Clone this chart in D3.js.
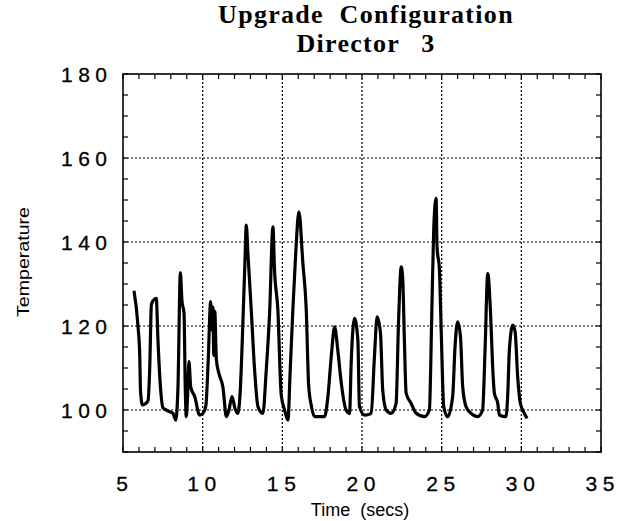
<!DOCTYPE html>
<html><head><meta charset="utf-8">
<script src="https://cdn.jsdelivr.net/npm/d3@7"></script>
<style>
html,body{margin:0;padding:0;background:#fff;}
svg{display:block;}
</style></head>
<body>
<svg id="chart" width="625" height="521"></svg>
<script>
const titleLines = ["Upgrade  Configuration", "Director  3"];
const xLabel = "Time  (secs)";
const yLabel = "Temperature";
const xTicks = [5, 10, 15, 20, 25, 30, 35];
const yTicks = [100, 120, 140, 160, 180];
const times = [5.69,5.94,6.05,6.1,6.22,6.4,6.57,6.68,6.78,6.88,7.09,7.19,7.35,7.51,7.62,7.93,8.14,8.31,8.45,8.6,8.7,8.83,8.91,8.97,9.05,9.14,9.25,9.5,9.81,10.02,10.2,10.35,10.5,10.58,10.64,10.7,10.76,10.86,11.02,11.27,11.49,11.65,11.84,12.02,12.2,12.35,12.5,12.65,12.74,12.84,13.05,13.26,13.47,13.78,13.99,14.2,14.41,14.51,14.72,14.93,15.14,15.35,15.5,15.66,15.85,16.04,16.29,16.5,16.65,16.82,17.02,17.65,17.86,18.07,18.28,18.48,18.7,19.0,19.22,19.32,19.53,19.74,19.84,20.16,20.58,20.78,20.95,21.16,21.3,21.52,21.83,22.14,22.29,22.46,22.56,22.66,22.77,23.08,23.4,23.92,24.23,24.38,24.5,24.65,24.71,24.86,24.97,25.13,25.38,25.69,25.84,26.0,26.18,26.32,26.53,26.85,27.26,27.57,27.73,27.89,28.06,28.2,28.31,28.52,28.62,29.04,29.15,29.25,29.46,29.61,29.77,29.94,30.19,30.36];
const temps = [128.4,120,113,104.5,101.2,101.5,102.2,110.3,125,126,126.6,117,105.5,100.5,100.2,99.6,99.2,97.6,105.5,132.7,126,123,104.8,98.4,103,111.5,105.5,103.2,98.8,99.2,101,112,125.8,119,124.5,113,123.5,112,108.7,105.5,98.4,100,103.2,100.5,99.2,104,118,135,144,137.3,123.8,109.5,100.8,99.2,109.5,123,143.6,133.3,123.8,103.6,100,97.6,110,123.8,138,147.2,134.9,124,106,101,98.4,98.4,103.2,112.7,119.8,114.3,106.4,100,99.2,111.1,121.8,116.7,100.8,98.8,99.2,112.7,122.2,118.3,104.8,100,99.2,101.6,120.6,134.1,131,116.7,104,101.6,99.2,98.4,100,123,142.9,150.4,138.9,133.3,119,100.8,98.4,103.2,115.1,121,117.5,105.5,100.8,99.2,98.4,100,115.1,132.5,123.8,110.3,104,101.6,98.8,98.4,104,114.3,120.2,118.6,107.9,101.6,99.2,98];

const svg = d3.select("#chart");
const x = d3.scaleLinear().domain([5, 35]).range([123, 601]);
const y = d3.scaleLinear().domain([90, 180]).range([452, 74]);
const x0 = x.range()[0], x1 = x.range()[1], y0 = y.range()[0], y1 = y.range()[1];

// grid
const grid = svg.append("g").attr("stroke", "#000").attr("stroke-width", 1.2).attr("stroke-dasharray", "2,2");
grid.selectAll("line.v").data(xTicks.filter(t => t > 5 && t < 35)).join("line")
  .attr("x1", d => x(d)).attr("x2", d => x(d)).attr("y1", y0).attr("y2", y1);
grid.selectAll("line.h").data(yTicks.filter(t => t > 90 && t < 180)).join("line")
  .attr("x1", x0).attr("x2", x1).attr("y1", d => y(d)).attr("y2", d => y(d));

// minor ticks (inward) on all four sides
const xMinor = d3.range(5, 35.01, 1);
const yMinor = d3.range(90, 180.01, 5);
const tk = svg.append("g").attr("stroke", "#000").attr("stroke-width", 1.2);
tk.selectAll("line.b").data(xMinor).join("line")
  .attr("x1", d => x(d)).attr("x2", d => x(d)).attr("y1", y0).attr("y2", y0 - 5);
tk.selectAll("line.t").data(xMinor).join("line")
  .attr("x1", d => x(d)).attr("x2", d => x(d)).attr("y1", y1).attr("y2", y1 + 5);
tk.selectAll("line.l").data(yMinor).join("line")
  .attr("x1", x0).attr("x2", x0 + 5).attr("y1", d => y(d)).attr("y2", d => y(d));
tk.selectAll("line.r").data(yMinor).join("line")
  .attr("x1", x1).attr("x2", x1 - 5).attr("y1", d => y(d)).attr("y2", d => y(d));

// frame
svg.append("rect").attr("x", x0).attr("y", y1).attr("width", x1 - x0).attr("height", y0 - y1)
  .attr("fill", "none").attr("stroke", "#000").attr("stroke-width", 1.6);

// data line
const pts = times.map((t, i) => [t, temps[i]]);
svg.append("path").datum(pts)
  .attr("d", d3.line().curve(d3.curveMonotoneX).x(d => x(d[0])).y(d => y(d[1])))
  .attr("fill", "none").attr("stroke", "#000").attr("stroke-width", 3.2).attr("stroke-linejoin", "round");

// tick labels (spaced digits as in the reference)
const lblFont = "'Liberation Sans', Arial, sans-serif";
const lenFor = s => ({1: 12, 2: 29, 3: 46})[String(s).length];
svg.append("g").selectAll("text").data(yTicks).join("text")
  .attr("x", 107).attr("y", d => y(d) + 7.5)
  .attr("text-anchor", "end").attr("font-family", lblFont).attr("font-size", 21)
  .attr("stroke", "#000").attr("stroke-width", 0.3)
  .attr("textLength", d => lenFor(d)).attr("lengthAdjust", "spacing").text(d => d);
svg.append("g").selectAll("text").data(xTicks).join("text")
  .attr("x", d => x(d) - 1).attr("y", 491)
  .attr("text-anchor", "middle").attr("font-family", lblFont).attr("font-size", 21)
  .attr("stroke", "#000").attr("stroke-width", 0.3)
  .attr("textLength", d => lenFor(d)).attr("lengthAdjust", "spacing").text(d => d);

// axis titles
svg.append("text").attr("x", 360).attr("y", 516).attr("text-anchor", "middle")
  .attr("font-family", lblFont).attr("font-size", 18)
  .style("white-space", "pre").text(xLabel);
svg.append("text").attr("transform", "translate(29,262) rotate(-90)").attr("text-anchor", "middle")
  .attr("font-family", lblFont).attr("font-size", 16)
  .attr("textLength", 110).attr("lengthAdjust", "spacingAndGlyphs").text(yLabel);

// title
svg.append("g").selectAll("text").data(titleLines).join("text")
  .attr("x", 366).attr("y", (d, i) => 23 + i * 29)
  .attr("text-anchor", "middle").attr("font-family", "'Liberation Serif', 'Times New Roman', serif")
  .attr("font-weight", "bold").attr("font-size", 26)
  .attr("letter-spacing", 1.3).attr("word-spacing", (d, i) => i === 0 ? 0 : 3)
  .style("white-space", "pre").text(d => d);
</script>
</body></html>
